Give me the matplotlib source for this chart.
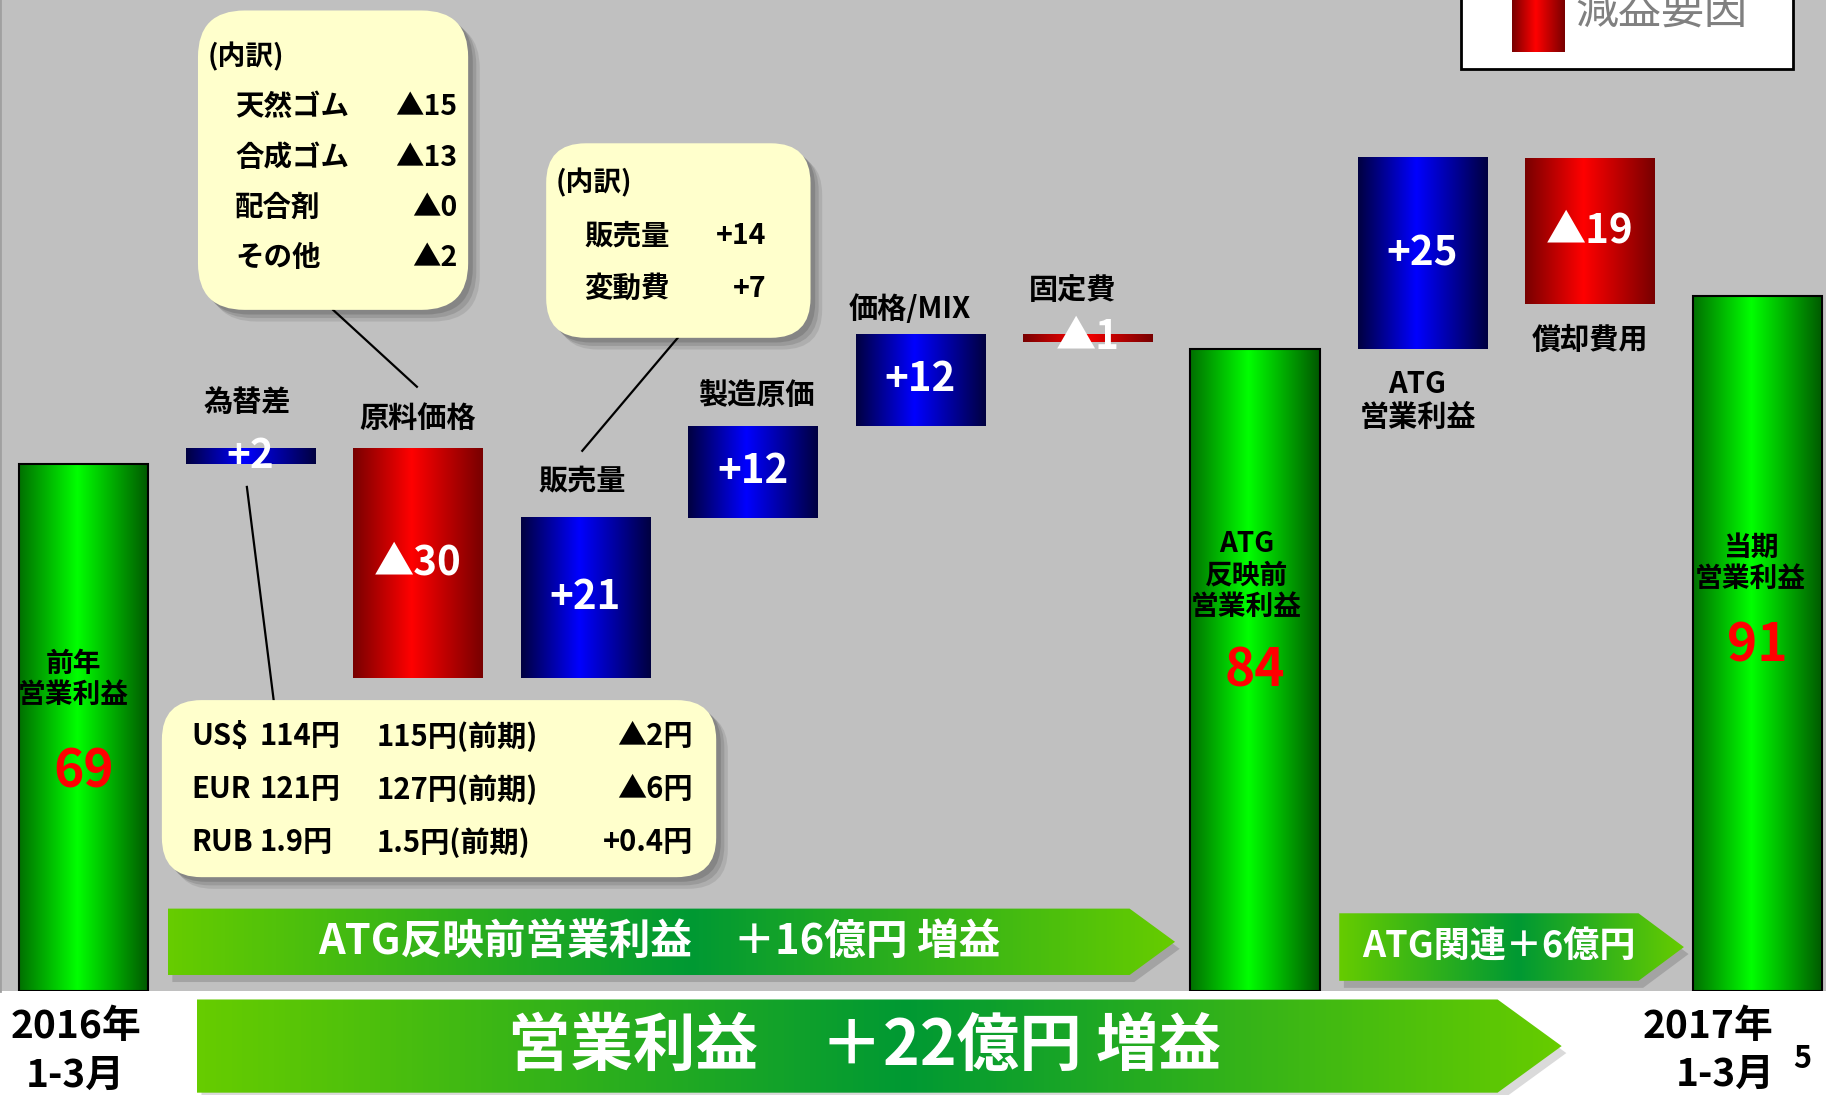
import numpy as np
import matplotlib.pyplot as plt
from matplotlib.colors import LinearSegmentedColormap
from matplotlib.patches import FancyBboxPatch, Polygon, Rectangle

plt.rcParams['font.family'] = ['Noto Sans CJK JP', 'DejaVu Sans']

# ---- data (億円) ----
steps = ['前年\n営業利益', '為替差', '原料価格', '販売量', '製造原価', '価格/MIX', '固定費',
         'ATG\n反映前\n営業利益', 'ATG\n営業利益', '償却費用', '当期\n営業利益']
values = [69, 2, -30, 21, 12, 12, -1, 84, 25, -19, 91]
is_total = [True, False, False, False, False, False, False, True, False, False, True]
value_labels = ['69', '+2', '▲30', '+21', '+12', '+12', '▲1', '84', '+25', '▲19', '91']

material_items = ['天然ゴム', '合成ゴム', '配合剤', 'その他']
material_values = ['▲15', '▲13', '▲0', '▲2']
volume_items = ['販売量', '変動費']
volume_values = ['+14', '+7']
fx_currency = ['US$', 'EUR', 'RUB']
fx_now = ['114円', '121円', '1.9円']
fx_prev = ['115円(前期)', '127円(前期)', '1.5円(前期)']
fx_diff = ['▲2円', '▲6円', '+0.4円']

arrow_texts = ['ATG反映前営業利益　＋16億円 増益', 'ATG関連＋6億円', '営業利益　＋22億円 増益']

# ---- colours ----
def cmap(name, c_edge, c_mid, c_edge2=None, mid=0.45):
    return LinearSegmentedColormap.from_list(name, [(0, c_edge), (mid, c_mid), (1, c_edge2 or c_edge)])

green = cmap('g', '#007000', '#00FF00', '#005800')
blue = cmap('b', '#000040', '#0000FF')
red = cmap('r', '#780000', '#FF0000')
arrow_cm = cmap('a', '#66CC00', '#009933', mid=0.52)
grad = np.linspace(0, 1, 256)[None, :]

W, H = 1568, 940          # slide layout grid
fig = plt.figure(figsize=(18.26, 10.95), dpi=100, facecolor='white')
ax = fig.add_axes([0, 1 - 851 / H, 1, 851 / H], facecolor='#C0C0C0')
ov = fig.add_axes([0, 0, 1, 1], zorder=5)

# ---- waterfall ----
bottoms, heights = [], []
level = 0
for v, tot in zip(values, is_total):
    if tot:
        bottoms.append(0)
        heights.append(v)
        level = v
    else:
        bottoms.append(level if v > 0 else level + v)
        heights.append(abs(v))
        level += v

x = np.arange(len(values))
bars = ax.bar(x, heights, 0.772, bottom=bottoms, color='none',
              edgecolor=['black' if t else 'none' for t in is_total], linewidth=1.5, zorder=3)
for b, v, tot, lab in zip(bars, values, is_total, value_labels):
    cm = green if tot else (blue if v > 0 else red)
    x0, y0, w, h = b.get_x(), b.get_y(), b.get_width(), b.get_height()
    ax.imshow(grad, cmap=cm, extent=(x0, x0 + w, y0, y0 + h), aspect='auto',
              interpolation='bilinear', zorder=2)
    if not tot:
        ax.text(x0 + w / 2, y0 + h / 2, lab, color='white', fontsize=29, fontweight='bold',
                ha='center', va='center', zorder=4)

# step names around the floating bars
step_pos = {1: (0.977, 77.1), 2: (2.0, 75.0), 3: (2.98, 66.8), 4: (4.02, 78.0),
            5: (4.94, 89.3), 6: (5.91, 91.8), 8: (7.97, 77.3), 9: (9.0, 85.3)}
for i, (px, py) in step_pos.items():
    ax.text(px, py, steps[i], fontsize=21, fontweight='bold', ha='center', va='center',
            linespacing=1.15, zorder=4)

# labels inside the total bars
inner_pos = {0: (-0.06, 40.8, 28.7), 7: (-0.05, 54.4, 41.9), 10: (-0.04, 56.0, 45.2)}
for i, (dx, ly, vy) in inner_pos.items():
    ax.text(i + dx, ly, steps[i], fontsize=20, fontweight='bold', ha='center', va='center',
            linespacing=1.15, zorder=4)
    ax.text(i, vy, value_labels[i], color='#FF0000', fontsize=37, fontweight='bold',
            ha='center', va='center', zorder=4)

ax.set_xlim(-0.497, 10.41)
ax.set_ylim(0, 851 / 6.56)
ax.set_xticks([])
ax.set_yticks([])
for s in ax.spines.values():
    s.set_visible(False)
ax.spines['left'].set_visible(True)
ax.spines['left'].set_color('#A0A0A0')
ax.spines['left'].set_linewidth(2)

# ---- callouts ----
def callout(x0, y0, x1, y1, r=38):
    for off, a in [(10, 0.18), (7, 0.25), (4, 0.35)]:
        ov.add_patch(FancyBboxPatch((x0 + off, y0 + off), x1 - x0, y1 - y0,
                                    boxstyle='round,pad=0,rounding_size=%d' % r,
                                    fc='#606060', ec='none', alpha=a, zorder=1))
    ov.add_patch(FancyBboxPatch((x0, y0), x1 - x0, y1 - y0,
                                boxstyle='round,pad=0,rounding_size=%d' % r,
                                fc='#FFFFCC', ec='none', zorder=2))

ov.plot([286, 358], [266, 332], color='black', lw=1.6)
ov.plot([582, 500], [290, 387], color='black', lw=1.6)
ov.plot([212, 235], [418, 601], color='black', lw=1.6)

callout(170, 9, 402, 266, 40)
ov.text(178, 49, '(内訳)', fontsize=20, fontweight='bold', va='center')
for k, (it, val) in enumerate(zip(material_items, material_values)):
    ov.text(202, 92 + 43.3 * k, it, fontsize=20.5, fontweight='bold', va='center')
    ov.text(393, 92 + 43.3 * k, val, fontsize=20.5, fontweight='bold', va='center', ha='right')

callout(469, 123, 696, 290, 34)
ov.text(477, 157, '(内訳)', fontsize=20, fontweight='bold', va='center')
for k, (it, val) in enumerate(zip(volume_items, volume_values)):
    ov.text(502, 203 + 45 * k, it, fontsize=20.5, fontweight='bold', va='center')
    ov.text(658, 203 + 45 * k, val, fontsize=20.5, fontweight='bold', va='center', ha='right')

callout(139, 601, 615, 753, 34)
for k in range(len(fx_currency)):
    yy = 632 + 45.5 * k
    ov.text(164, yy, fx_currency[k], fontsize=21, fontweight='bold', va='center')
    ov.text(223, yy, fx_now[k], fontsize=21, fontweight='bold', va='center')
    ov.text(323, yy, fx_prev[k], fontsize=21, fontweight='bold', va='center')
    ov.text(595, yy, fx_diff[k], fontsize=21, fontweight='bold', va='center', ha='right')

# ---- summary arrows ----
def arrow(x0, x1, xtip, yt, yb, text, size, tx, shadow='#A3A3A3'):
    ym = (yt + yb) / 2
    pts = [(x0, yt), (x1, yt), (xtip, ym), (x1, yb), (x0, yb)]
    ov.add_patch(Polygon([(px + 4, py + 6) for px, py in pts], fc=shadow, ec='none', zorder=1))
    poly = Polygon(pts, fc='none', ec='none', zorder=2)
    ov.add_patch(poly)
    im = ov.imshow(grad, cmap=arrow_cm, extent=(x0, xtip, yb, yt), aspect='auto',
                   interpolation='bilinear', zorder=2)
    im.set_clip_path(poly)
    ov.text(tx, ym, text, color='white', fontsize=size, fontweight='bold',
            ha='center', va='center', zorder=3)

arrow(144, 970, 1009, 780, 837, arrow_texts[0], 30, 566)
arrow(1150, 1407, 1446, 784, 842, arrow_texts[1], 26, 1287)
arrow(169, 1286, 1341, 858, 938, arrow_texts[2], 45, 742, shadow='#DADADA')

# ---- legend (partly off the slide) ----
ov.add_patch(Rectangle((1255, -10), 285, 69, fc='white', ec='black', lw=2, zorder=1))
ov.imshow(grad, cmap=red, extent=(1298, 1343, 44.6, -10), aspect='auto',
          interpolation='bilinear', zorder=2)
ov.text(1427, 10, '減益要因', color='#808080', fontsize=31, ha='center', va='center', zorder=3)

# ---- period labels ----
ov.text(65, 881, '2016年', fontsize=28, fontweight='bold', ha='center', va='center')
ov.text(65, 923, '1-3月', fontsize=28, fontweight='bold', ha='center', va='center')
ov.text(1523, 881, '2017年', fontsize=28, fontweight='bold', ha='right', va='center')
ov.text(1524, 922, '1-3月', fontsize=28, fontweight='bold', ha='right', va='center')
ov.text(1548, 909, '5', fontsize=22, fontweight='bold', ha='center', va='center')

ov.set_xlim(0, W)
ov.set_ylim(H, 0)
ov.axis('off')

fig.savefig('out.png', dpi=100, facecolor='white')
